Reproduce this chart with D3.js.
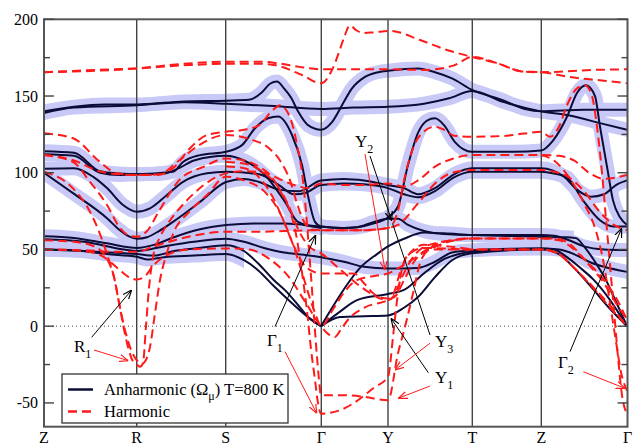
<!DOCTYPE html>
<html><head><meta charset="utf-8">
<script src="https://cdn.jsdelivr.net/npm/d3@7"></script>
<style>html,body{margin:0;padding:0;background:#fff;}svg{display:block;}
text{font-family:"Liberation Serif","Tinos","Nimbus Roman","Times New Roman","DejaVu Serif",serif;}</style>
</head><body>
<svg id="chart" width="638" height="446"></svg>
<script>
// ---------------- DATA ----------------
const kTicks  = [0, 92.7, 181.7, 277.3, 344, 428.3, 497.3, 583.5];
const kLabels = ["Z", "R", "S", "Γ", "Y", "T", "Z", "Γ"];
const yMajorTicks = [-50, 0, 50, 100, 150, 200];
const yMinorTicks = [-25, 25, 75, 125, 175];

// Anharmonic (Omega_mu) T=800 K bands  [k, frequency]
const anh1 = [[0,140],[30,143],[60,144.5],[93,144.5],[140,146.5],[182,147],[205,147.5],[218,152.5],[226,158],[233,159.5],[240,155],[247,149],[254,140],[264,131],[277,128],[288,133],[298,144],[308,155],[321,162.5],[338,166],[344,166.5],[374,168],[391,165.5],[408,161.5],[428,154],[458,147.5],[481,141.5],[497,140],[540,141],[583,141]];
const anh2 = [[0,139],[30,142.5],[93,144],[140,146],[182,145],[230,143.5],[277,141.5],[310,142.5],[344,143],[380,145],[405,148.5],[428,153.3],[460,146],[497,140],[524,137.5],[558,132],[583,128]];
const anh3 = [[0,114],[30,113],[56,101],[75,99.5],[93,99],[129,100.6],[139,107],[156,111.5],[182,113.7],[198,118],[211,129],[224,135.5],[234,136.7],[248,124.6],[258,105],[264,85],[271,68],[277,65],[300,64],[313,64.5],[330,67],[344,71],[354,78],[364,105],[374,126],[383,134],[391,135.5],[400,131],[411,120],[428,113.7],[470,113.7],[497,114.5],[509,121],[523,136.5],[533,152],[542,157],[551,150],[556,130],[563,104],[569,82],[576,71],[583,66]];
const anh4 = [[0,102.6],[30,103],[50,97],[63,90],[79,79],[93,74.6],[106,76.8],[123,85.5],[139,94],[163,99.6],[182,100.6],[215,99],[235,92],[250,86],[262,87],[277,92],[300,93],[320,92.5],[344,90],[360,86],[374,84],[391,88],[410,97],[428,100.6],[497,100.6],[510,99.5],[523,97],[539,82],[556,69],[569,65],[583,65]];
const anh5 = [[0,100],[29,86.7],[63,70.4],[75,63],[85,58.5],[93,57],[103,58],[115,62],[129,68],[156,81],[182,94],[200,96],[215,94],[235,89],[255,88],[277,95],[300,96],[320,95],[344,92],[360,90],[374,86],[391,90],[410,99],[428,102.9],[497,102.9],[520,97.4],[533,89],[547,84.4],[560,86],[572,92],[583,95]];
const anh6 = [[0,112],[30,111],[56,100],[75,98.5],[93,99],[120,99.5],[135,103],[150,108],[182,111],[200,108],[221,98.5],[241,81],[254,68],[277,64]];
const anh7 = [[0,58.6],[30,57.5],[63,54],[93,51],[110,53],[130,58],[155,63],[182,65.9],[210,67],[240,67],[260,66],[277,65],[300,64],[313,64.5],[330,68],[344,70],[354,70],[364,66],[380,62],[400,60],[428,59.4],[497,59.4],[510,59],[525,56],[540,52],[560,50],[583,49.6]];
const anh8 = [[0,56.7],[40,55],[80,50],[93,49],[120,52],[150,55],[182,57],[200,55],[220,51],[240,48],[260,46.5],[277,45],[300,42],[320,38.7],[344,37.6],[374,38],[391,42],[408,48],[428,49.5],[497,50.7],[515,50],[530,47],[545,42],[560,38.7],[583,35.4]];
const anh9 = [[0,50],[30,49.5],[63,47],[93,45.2],[103,43.5],[120,45],[150,46],[182,47],[200,43],[214,36.5],[230,26],[248,15],[262,7],[277,0]];
const anh10 = [[0,50],[40,49],[93,47],[110,46],[130,49],[155,51],[182,52.8],[200,49],[214,41],[230,30],[241,23.5],[255,13],[264,6],[277,0]];
const anh11 = [[277,0],[290,14],[303,27],[316,38],[333,47],[344,52],[360,57],[380,61],[400,60.5],[428,59.4],[497,58.3],[510,58],[522,58],[532,57.4],[540,52],[550,43],[562,30],[572,16],[583,0]];
const anh12 = [[277,0],[295,9],[313,17],[344,21],[361,24],[381,35],[401,44],[415,47],[428,48.5],[497,50.7],[510,50],[523,45],[535,38.7],[550,30],[565,18],[583,0]];
const anh13 = [[277,0],[296,6],[320,6.5],[344,7],[360,12],[374,19],[391,32],[408,43],[428,47.5],[497,50],[515,47],[530,38],[548,25],[565,12],[583,0]];

// Harmonic bands [k, frequency]
const harm1 = [[0,165.5],[50,167],[93,168],[140,170],[182,171],[215,171],[232,170],[258,163.7],[277,158.3],[288,167],[294,176.7],[300,188],[306,196],[312,193],[319,191],[330,191.5],[346,192.5],[376,186.5],[403,180],[428,175.5],[455,171],[478,166],[497,165.5],[520,166],[550,167],[583,167.4]];
const harm2 = [[0,165.5],[93,168],[140,171],[182,172.4],[215,172.4],[232,171.5],[255,169],[277,167.4],[310,167.4],[344,167.4],[380,167],[410,170],[428,175.5],[455,171],[478,166],[497,165.5],[530,162],[560,160],[583,158.3]];
const harm3 = [[0,125.7],[29,122.5],[56,107],[73,99.6],[93,98.5],[113,98.5],[129,102.9],[146,116],[163,124.6],[182,126.7],[200,128],[215,131],[229,141],[236,144],[243,140],[249,130],[254,115],[258,100],[261,82],[265,50],[269,15],[273,-20],[275,-35],[277,-45],[300,-45],[320,-46],[344,-48.3],[354,-17.7],[362.7,4],[369,21.4],[376,41],[385,50],[400,55],[428,57.2],[497,57.2],[515,56],[530,50],[545,40],[560,28],[572,15],[583,4]];
const harm4 = [[0,111.5],[29,107],[46,94],[63,79],[76,64],[85,59],[93,58.3],[103,62],[115,75],[135,95],[160,104],[182,109.3],[200,108],[215,104],[228,97],[238,86],[246,75],[252,60],[258,35],[263,10],[267,-15],[271,-35],[274,-50],[277,-57],[295,-55],[310,-50],[330,-40],[344,-33],[349,-7],[352.7,15],[357.7,36.6],[365,47],[380,51],[428,50],[497,50],[512,48],[527,40],[545,28],[565,13],[583,0]];
const harm5 = [[0,100.6],[29,89.8],[46,74.6],[56,60],[63,47],[70,32],[76,12],[80,-2],[84,-13.5],[89,-23],[93,-25.2],[96,-26.5],[99,-24],[102,0],[105,25],[109,45],[116,58],[123,66],[140,80],[156,90],[182,99.6],[200,101],[220,100],[235,96],[250,92],[265,90],[277,93],[300,92],[320,92],[344,93],[360,91],[374,95],[391,104],[408,109],[428,111.5],[497,111.5],[515,111],[530,108],[545,100],[560,96],[583,98.5]];
const harm6 = [[0,111.5],[30,108],[55,101],[75,99],[93,98.5],[115,99],[135,108],[155,118],[182,124.6],[205,122],[225,116],[236,108],[246,95],[253,80],[260,68],[268,63],[277,62.6],[300,62.6],[320,62.6],[344,64],[350,68],[355,78],[360,95],[366,110],[374,122.6],[391,130],[400,128],[411,124],[428,123.5],[460,124],[480,125.5],[497,126.7],[506,123.5],[515,130],[523,144],[533,155],[541,157],[548,150],[553,130],[558,100],[562,70],[566,40],[570,10],[574,-20],[578,-45],[583,-57]];
const harm7 = [[0,56],[30,55],[50,52],[62,45],[70,32],[76,12],[82,-5],[88,-17],[94,-23],[98,-24.5],[101,-23],[106,-13.5],[111,8.5],[116,30],[123,48],[129,60],[146,75],[163,85.5],[182,97.4],[200,95],[220,88],[235,75],[248,55],[258,35],[266,18],[272,7],[277,0],[290,12],[300,22],[313,30],[333,33],[344,34.4],[360,40],[380,48],[400,54],[428,57.2],[497,57.2],[512,57],[525,54],[540,44],[560,30],[575,15],[583,4]];
const harm8 = [[0,50],[40,49],[60,45],[75,37],[85,32],[93,30.4],[100,32],[110,40],[125,47],[145,50],[182,50.7],[205,50],[225,44],[245,32],[262,15],[277,0],[284,-5],[291,-7],[297,-2],[305,5],[320,12],[344,17],[352,20],[360,30],[370,42],[385,50],[428,50],[497,50],[515,47],[530,38],[550,25],[568,12],[583,0]];
const harm9 = [[0,50],[40,49.5],[70,48.5],[93,48.5],[110,52],[139,57.5],[182,61.5],[210,61.5],[240,62],[277,62.6],[300,62.6],[320,62.6],[344,64],[354,66],[374,80],[391,93],[408,100],[428,101.8],[497,101.8],[510,100.6],[525,97],[540,88],[555,75],[570,66],[583,62.6]];
const harm10 = [[497,111.5],[510,108],[525,97],[540,80],[552,62],[560,40],[566,15],[572,-10],[577,-30],[583,-42]];
const harm11 = [[182,107],[200,106],[220,100],[235,90],[245,78],[255,62],[265,52],[277,47.5],[297,36.5],[317,25.6],[344,17],[350,20],[358,32],[368,44],[385,53],[428,57.2]];
const harm12 = [[182,104],[200,103],[215,97],[228,85],[240,68],[250,52],[260,40],[268,36],[277,34.4],[310,34.4],[320,28],[330,21],[344,18],[350,22],[356,35],[364,46],[380,53],[428,50]];

const anharmonicBands = [anh1, anh2, anh3, anh4, anh5, anh6, anh7, anh8, anh9, anh10, anh11, anh12, anh13];
const harmonicBands = [harm1, harm2, harm3, harm4, harm5, harm6, harm7, harm8, harm9, harm10, harm11, harm12];
// k-ranges where the anharmonic linewidth shading is visible (one list per anharmonic band)
const shadeRanges = [[[0,584]],[[0,584]],[[0,584]],[[0,584]],[[0,584]],[[0,584]],[[0,584]],[[0,584]],[[0,200]],[[0,200]],[[395,530]],[],[]];

// annotations (data coords)
const annLabels = [
  {main:"R", sub:"1", k:30, v:-16.6},
  {main:"Γ", sub:"1", k:223, v:-13},
  {main:"Y", sub:"2", k:311, v:117},
  {main:"Y", sub:"3", k:391, v:-13.4},
  {main:"Y", sub:"1", k:391, v:-37},
  {main:"Γ", sub:"2", k:514, v:-27.2}
];
const blackArrows = [
  {from:[47.7,-7.2], to:[87.7,23.6], head:true},
  {from:[231,-0.3], to:[271.7,59.4], head:true},
  {from:[326,110.9], to:[347.7,68.8], head:true},
  {from:[386,-5.7], to:[348.5,67], head:false},
  {from:[384.3,-30.3], to:[347,5.1], head:true},
  {from:[526,-16.6], to:[577.7,63.8], head:true}
];
const redArrows = [
  {from:[50,-15.5], to:[84.3,-22.5], head:true},
  {from:[241,-16.6], to:[272.7,-56.8], head:true},
  {from:[321,112.2], to:[341,36.6], head:true},
  {from:[386,-11.1], to:[351,-28.5], head:true},
  {from:[386,-39], to:[354.3,-47], head:true},
  {from:[539.3,-29.7], to:[581,-40.5], head:true}
];
const legendItems = [
  {label:["Anharmonic (Ω","μ",") T=800 K"], type:"anh"},
  {label:["Harmonic"], type:"harm"}
];

// ---------------- DRAW ----------------
const P = {left:44, right:627.5, top:19.3, bottom:426.7};
const svg = d3.select("#chart");
const x = d3.scaleLinear().domain([kTicks[0], kTicks[kTicks.length-1]]).range([P.left, P.right]);
const y = d3.scaleLinear().domain([-65.5, 200]).range([P.bottom, P.top]);

const defs = svg.append("defs");
defs.append("clipPath").attr("id","plotclip").append("rect")
  .attr("x",P.left).attr("y",P.top).attr("width",P.right-P.left).attr("height",P.bottom-P.top);
[["arrB","#000"],["arrR","#ff1a1a"]].forEach(([id,c])=>{
  defs.append("marker").attr("id",id).attr("viewBox","0 0 10 10").attr("refX",10).attr("refY",5)
    .attr("markerWidth",9).attr("markerHeight",9).attr("markerUnits","userSpaceOnUse").attr("orient","auto")
    .append("path").attr("d","M0,1 L10,5 L0,9").attr("fill","none").attr("stroke",c).attr("stroke-width",1.3);
});

const line = d3.line().x(d=>x(d[0])).y(d=>y(d[1])).curve(d3.curveMonotoneX);
const plotG = svg.append("g").attr("clip-path","url(#plotclip)");

// linewidth shading
anharmonicBands.forEach((b,i)=>{
  const rs = shadeRanges[i];
  if (!rs || !rs.length) return;
  const cp = defs.append("clipPath").attr("id","sh"+i);
  rs.forEach(r=>cp.append("rect").attr("x",x(r[0])).attr("y",0).attr("width",x(r[1])-x(r[0])).attr("height",446));
  plotG.append("g").attr("clip-path","url(#sh"+i+")")
    .append("path").attr("d",line(b)).attr("fill","none")
    .attr("stroke","#c9c9f7").attr("stroke-width",14).attr("stroke-linecap","round").attr("stroke-linejoin","round");
});

// vertical high-symmetry lines
plotG.selectAll("line.vl").data(kTicks.slice(1,-1)).enter().append("line")
  .attr("x1",d=>x(d)).attr("x2",d=>x(d)).attr("y1",P.top).attr("y2",P.bottom)
  .attr("stroke","#444").attr("stroke-width",1.4);
// zero line
plotG.append("line").attr("x1",P.left).attr("x2",P.right).attr("y1",y(0)).attr("y2",y(0))
  .attr("stroke","#444").attr("stroke-width",1).attr("stroke-dasharray","1,3");

// anharmonic lines
plotG.selectAll("path.anh").data(anharmonicBands).enter().append("path")
  .attr("d",line).attr("fill","none").attr("stroke","#0c0c38").attr("stroke-width",2);
// harmonic lines
plotG.selectAll("path.harm").data(harmonicBands).enter().append("path")
  .attr("d",line).attr("fill","none").attr("stroke","#ff1a1a").attr("stroke-width",2)
  .attr("stroke-dasharray","9,5");

// frame
svg.append("rect").attr("x",P.left).attr("y",P.top).attr("width",P.right-P.left).attr("height",P.bottom-P.top)
  .attr("fill","none").attr("stroke","#555").attr("stroke-width",2);

// y ticks both sides
const tickG = svg.append("g").attr("stroke","#444").attr("stroke-width",1.4);
yMajorTicks.forEach(v=>{
  tickG.append("line").attr("x1",P.left).attr("x2",P.left+10).attr("y1",y(v)).attr("y2",y(v));
  tickG.append("line").attr("x1",P.right-10).attr("x2",P.right).attr("y1",y(v)).attr("y2",y(v));
});
yMinorTicks.forEach(v=>{
  tickG.append("line").attr("x1",P.left).attr("x2",P.left+6).attr("y1",y(v)).attr("y2",y(v));
  tickG.append("line").attr("x1",P.right-6).attr("x2",P.right).attr("y1",y(v)).attr("y2",y(v));
});
svg.selectAll("text.yl").data(yMajorTicks).enter().append("text")
  .attr("x",P.left-6).attr("y",d=>y(d)+5.5).attr("text-anchor","end")
  .attr("font-size",16).attr("fill","#000").text(d=>d);
svg.selectAll("text.xl").data(kTicks).enter().append("text")
  .attr("x",d=>x(d)).attr("y",443).attr("text-anchor","middle")
  .attr("font-size",16).attr("fill","#000").text((d,i)=>kLabels[i]);

// annotation arrows
const annG = svg.append("g");
blackArrows.forEach(a=>{
  annG.append("line").attr("x1",x(a.from[0])).attr("y1",y(a.from[1])).attr("x2",x(a.to[0])).attr("y2",y(a.to[1]))
    .attr("stroke","#000").attr("stroke-width",1).attr("marker-end",a.head?"url(#arrB)":null);
});
redArrows.forEach(a=>{
  annG.append("line").attr("x1",x(a.from[0])).attr("y1",y(a.from[1])).attr("x2",x(a.to[0])).attr("y2",y(a.to[1]))
    .attr("stroke","#ff1a1a").attr("stroke-width",1).attr("marker-end",a.head?"url(#arrR)":null);
});
annLabels.forEach(l=>{
  const t = annG.append("text").attr("x",x(l.k)).attr("y",y(l.v)).attr("font-size",17).attr("fill","#000");
  t.append("tspan").text(l.main);
  t.append("tspan").attr("dy",6).attr("font-size",12).text(l.sub);
});

// legend
const lg = svg.append("g");
lg.append("rect").attr("x",62).attr("y",374).attr("width",226).attr("height",49)
  .attr("fill","#fff").attr("stroke","#333").attr("stroke-width",1.3);
legendItems.forEach((it,i)=>{
  const yy = 389.5 + i*22;
  const ln = lg.append("line").attr("x1",68).attr("x2",93).attr("y1",yy).attr("y2",yy).attr("stroke-width",2.5);
  if (it.type==="anh") ln.attr("stroke","#0c0c38");
  else ln.attr("stroke","#ff1a1a").attr("stroke-dasharray","9,5");
  const t = lg.append("text").attr("x",104).attr("y",yy+5.5).attr("font-size",16.5).attr("fill","#000");
  t.append("tspan").text(it.label[0]);
  if (it.label.length>1){
    t.append("tspan").attr("dy",5).attr("font-size",12).text(it.label[1]);
    t.append("tspan").attr("dy",-5).text(it.label[2]);
  }
});
</script>
</body></html>
